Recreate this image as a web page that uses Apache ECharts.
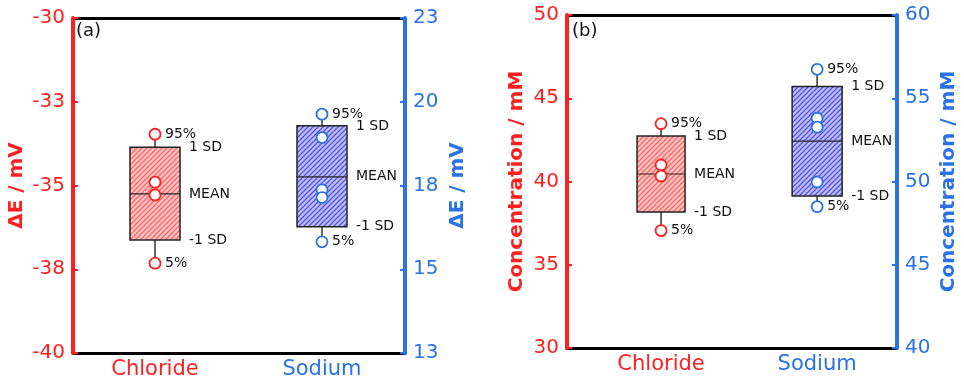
<!DOCTYPE html>
<html>
<head>
<meta charset="utf-8">
<script src="https://cdn.jsdelivr.net/npm/echarts@6/dist/echarts.min.js"></script>
<style>
html, body { margin: 0; padding: 0; background: #fff; }
#main { width: 964px; height: 383px; }
</style>
</head>
<body>
<div id="main"></div>
<script>
// categories
var categories = ['Chloride', 'Sodium'];
// box stats: [5%, -1 SD, MEAN, 1 SD, 95%]
var stats_a_cl = [-37.32, -36.63, -35.25, -33.86, -33.47];
var stats_a_na = [15.82, 16.27, 17.76, 19.28, 19.63];
var stats_b_cl = [37.05, 38.17, 40.45, 42.73, 43.47];
var stats_b_na = [48.49, 49.13, 52.43, 55.70, 56.74];
// individual points
var points_a_cl = [-34.90, -35.28];
var points_a_na = [18.93, 17.37, 17.14];
var points_b_cl = [40.99, 40.33];
var points_b_na = [53.80, 53.26, 49.97];
// tick labels (panel a shows rounded values)
var ticks_a_left = ['-40', '-38', '-35', '-33', '-30'];
var ticks_a_right = ['13', '15', '18', '20', '23'];
var statNames = ['5%', '-1 SD', 'MEAN', '1 SD', '95%'];

// layout
var xPosA = [0.247, 0.75];
var xPosB = [0.285, 0.758];
var RED = '#ff1f1f';
var BLUE = '#2a72e6';
var FONT = '"DejaVu Sans", sans-serif';

function hatch(bg, line) {
    var s = 5;
    var c = document.createElement('canvas');
    c.width = s; c.height = s;
    var ctx = c.getContext('2d');
    ctx.fillStyle = bg;
    ctx.fillRect(0, 0, s, s);
    ctx.strokeStyle = line;
    ctx.lineWidth = 1.3;
    ctx.beginPath();
    ctx.moveTo(0, s); ctx.lineTo(s, 0);
    ctx.moveTo(-1, 1); ctx.lineTo(1, -1);
    ctx.moveTo(s - 1, s + 1); ctx.lineTo(s + 1, s - 1);
    ctx.stroke();
    return { image: c, repeat: 'repeat' };
}
var redFill = hatch('#ffc6c6', '#ff6464');
var blueFill = hatch('#c0c0ff', '#5252e2');

function makeBoxRender(fill, w) {
    return function (params, api) {
        var x = api.value(0);
        var p = [];
        for (var i = 1; i <= 5; i++) p.push(api.coord([x, api.value(i)]));
        var cx = p[0][0];
        var lineSt = { stroke: '#333', lineWidth: 1.5 };
        var txt = function (t, tx, ty) {
            return { type: 'text', x: tx, y: ty, z2: 20,
                style: { text: t, fill: '#111', fontSize: 14, fontFamily: FONT, align: 'left', verticalAlign: 'middle' } };
        };
        return {
            type: 'group',
            children: [
                { type: 'line', shape: { x1: cx, y1: p[4][1], x2: cx, y2: p[3][1] }, style: lineSt },
                { type: 'line', shape: { x1: cx, y1: p[1][1], x2: cx, y2: p[0][1] }, style: lineSt },
                { type: 'rect', shape: { x: cx - w / 2, y: p[3][1], width: w, height: p[1][1] - p[3][1] },
                  style: { fill: fill, stroke: '#222', lineWidth: 1.5 } },
                { type: 'line', shape: { x1: cx - w / 2, y1: p[2][1], x2: cx + w / 2, y2: p[2][1] },
                  style: { stroke: '#222', lineWidth: 1.2 } },
                txt(statNames[4], cx + 10, p[4][1]),
                txt(statNames[3], cx + w / 2 + 9, p[3][1]),
                txt(statNames[2], cx + w / 2 + 9, p[2][1]),
                txt(statNames[1], cx + w / 2 + 9, p[1][1]),
                txt(statNames[0], cx + 10, p[0][1])
            ]
        };
    };
}

function boxSeries(xi, yi, xpos, stats, fill, w) {
    return {
        type: 'custom', xAxisIndex: xi, yAxisIndex: yi, z: 3,
        renderItem: makeBoxRender(fill, w),
        encode: { x: 0, y: [1, 2, 3, 4, 5] },
        data: [[xpos].concat(stats)]
    };
}

function dotSeries(xi, yi, xpos, stats, pts, color) {
    var data = [[xpos, stats[4]], [xpos, stats[0]]];
    pts.forEach(function (v) { data.push([xpos, v]); });
    return {
        type: 'scatter', xAxisIndex: xi, yAxisIndex: yi, z: 5,
        symbol: 'circle', symbolSize: 11,
        itemStyle: { color: '#fff', borderColor: color, borderWidth: 1.8, opacity: 1 },
        data: data
    };
}

function bottomAxis(gi, pos) {
    return {
        type: 'value', gridIndex: gi, min: 0, max: 1, position: 'bottom',
        axisLine: { show: true, onZero: false, lineStyle: { color: '#000', width: 3 } },
        axisTick: { show: false },
        splitLine: { show: false },
        axisLabel: {
            customValues: pos, margin: 6,
            formatter: function (v) {
                var i = pos.indexOf(v);
                return i === 0 ? '{c|' + categories[0] + '}' : '{s|' + categories[1] + '}';
            },
            rich: {
                c: { color: RED, fontSize: 21, fontFamily: FONT },
                s: { color: BLUE, fontSize: 21, fontFamily: FONT }
            }
        }
    };
}
function topAxis(gi) {
    return {
        type: 'value', gridIndex: gi, min: 0, max: 1, position: 'top',
        axisLine: { show: true, onZero: false, lineStyle: { color: '#000', width: 3 } },
        axisTick: { show: false }, axisLabel: { show: false }, splitLine: { show: false }
    };
}
function yAx(gi, pos, mn, mx, iv, color, name, gap, labels) {
    return {
        type: 'value', gridIndex: gi, position: pos, min: mn, max: mx, interval: iv, z: 4,
        name: name, nameLocation: 'middle', nameGap: gap, nameRotate: 90,
        nameTextStyle: { color: color, fontSize: 20, fontWeight: 'bold', fontFamily: FONT },
        axisLine: { show: true, onZero: false, lineStyle: { color: color, width: 4 } },
        axisTick: { show: true, inside: true, length: 5, lineStyle: { color: color, width: 2 } },
        splitLine: { show: false },
        axisLabel: {
            color: color, fontSize: 20, fontFamily: FONT, margin: 8,
            formatter: labels ? function (v, i) { return labels[i]; } : null
        }
    };
}

var chart = echarts.init(document.getElementById('main'));
chart.setOption({
    animation: false,
    backgroundColor: '#fff',
    grid: [
        { left: 73, top: 18, width: 332, height: 335 },
        { left: 567, top: 15, width: 330, height: 333 }
    ],
    xAxis: [bottomAxis(0, xPosA), topAxis(0), bottomAxis(1, xPosB), topAxis(1)],
    yAxis: [
        yAx(0, 'left', -40, -30, 2.5, RED, 'ΔE / mV', 46, ticks_a_left),
        yAx(0, 'right', 12.5, 22.5, 2.5, BLUE, 'ΔE / mV', 43, ticks_a_right),
        yAx(1, 'left', 30, 50, 5, RED, 'Concentration / mM', 40, null),
        yAx(1, 'right', 40, 60, 5, BLUE, 'Concentration / mM', 42, null)
    ],
    graphic: [
        { type: 'text', left: 76, top: 22, style: { text: '(a)', fontSize: 18, fontFamily: FONT, fill: '#111' } },
        { type: 'text', left: 572, top: 22, style: { text: '(b)', fontSize: 18, fontFamily: FONT, fill: '#111' } }
    ],
    series: [
        boxSeries(0, 0, xPosA[0], stats_a_cl, redFill, 50),
        boxSeries(0, 1, xPosA[1], stats_a_na, blueFill, 50),
        boxSeries(2, 2, xPosB[0], stats_b_cl, redFill, 48),
        boxSeries(2, 3, xPosB[1], stats_b_na, blueFill, 50),
        dotSeries(0, 0, xPosA[0], stats_a_cl, points_a_cl, RED),
        dotSeries(0, 1, xPosA[1], stats_a_na, points_a_na, BLUE),
        dotSeries(2, 2, xPosB[0], stats_b_cl, points_b_cl, RED),
        dotSeries(2, 3, xPosB[1], stats_b_na, points_b_na, BLUE)
    ]
});
</script>
</body>
</html>
